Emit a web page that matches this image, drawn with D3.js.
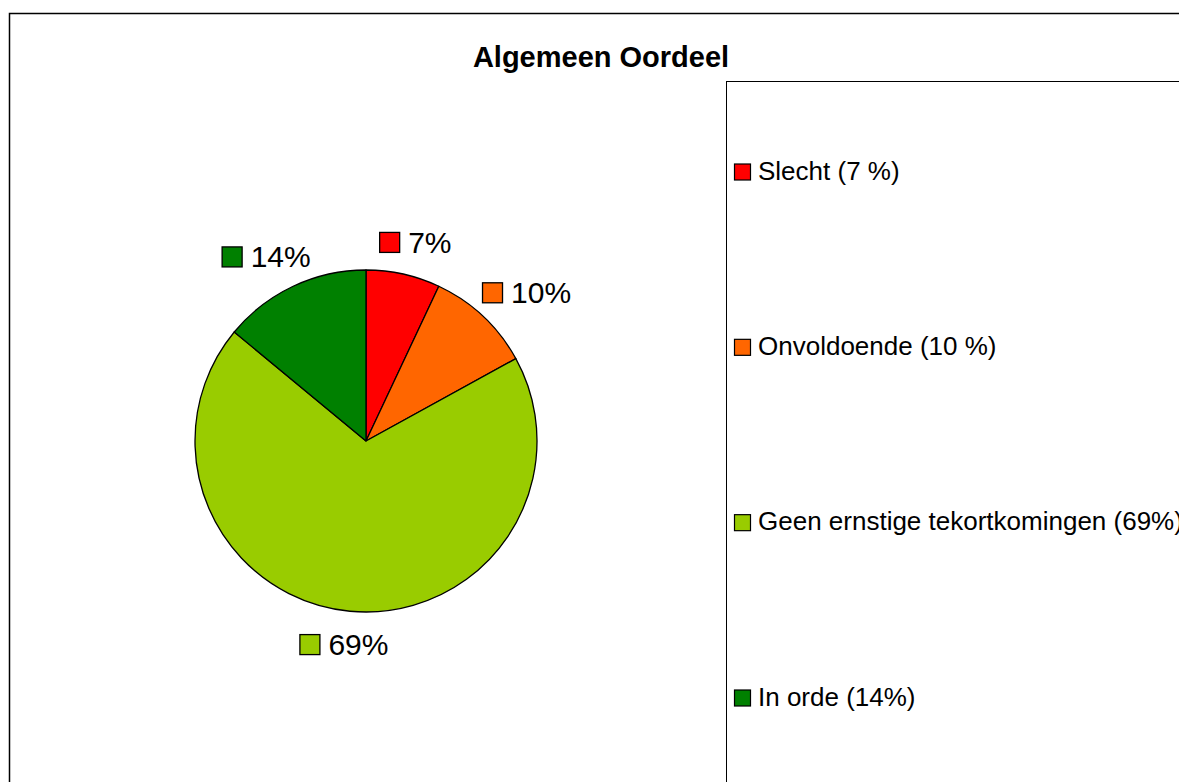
<!DOCTYPE html>
<html>
<head>
<meta charset="utf-8">
<script src="https://cdn.jsdelivr.net/npm/d3@7"></script>
<style>
  body { margin: 0; background: #fff; }
  text { font-family: "Liberation Sans", Arial, sans-serif; fill: #000; }
</style>
</head>
<body>
<div id="chart"></div>
<script>
var w = 1179,
    h = 782;

// data
var categories = ["Slecht", "Onvoldoende", "Geen ernstige tekortkomingen", "In orde"];
var values = [7, 10, 69, 14];
var sliceLabels = ["7%", "10%", "69%", "14%"];
var legendLabels = ["Slecht (7 %)", "Onvoldoende (10 %)", "Geen ernstige tekortkomingen (69%)", "In orde (14%)"];
var colors = ["#ff0000", "#ff6600", "#99cc00", "#008000"];

var cx = 366, cy = 441, radius = 171;

var svg = d3.select("#chart")
    .append("svg")
    .attr("width", w)
    .attr("height", h);

// outer chart border
svg.append("rect")
    .attr("x", 9.5)
    .attr("y", 13.5)
    .attr("width", w + 20)
    .attr("height", h + 20)
    .style("fill", "#fff")
    .style("stroke", "#000")
    .style("stroke-width", 1.5);

//title
svg.append("text")
    .attr("x", 601)
    .attr("y", 67)
    .attr("text-anchor", "middle")
    .style("font-size", "29px")
    .style("font-weight", "bold")
    .text("Algemeen Oordeel");

var color = d3.scaleOrdinal().domain(categories).range(colors);

var pie = d3.pie().sort(null).value(function (d) { return d.value; });
var arc = d3.arc().innerRadius(0).outerRadius(radius);

var data = categories.map(function (c, i) {
    return { name: c, value: values[i], label: sliceLabels[i] };
});
var arcs = pie(data);

var g = svg.append("g")
    .attr("transform", "translate(" + cx + "," + cy + ")");

g.selectAll("path")
    .data(arcs)
    .enter()
    .append("path")
    .attr("d", arc)
    .style("fill", function (d) { return color(d.data.name); })
    .style("stroke", "#000")
    .style("stroke-width", 1.3)
    .style("stroke-linejoin", "round");

// data labels (swatch + percentage) outside the pie
var labR = radius + 19,
    sw = 20, gap = 9, labH = 28;

var lab = g.selectAll("g.lab")
    .data(arcs)
    .enter()
    .append("g")
    .attr("class", "lab");

lab.each(function (d) {
    var el = d3.select(this);
    var t = el.append("text")
        .style("font-size", "30px")
        .text(d.data.label);
    var tw = t.node().getComputedTextLength();
    var bw = sw + gap + tw;
    var a = (d.startAngle + d.endAngle) / 2;
    var s = Math.sin(a), c = Math.cos(a);
    var mx = labR * s + s * bw / 2,
        my = -labR * c - c * labH / 2;
    var left = mx - bw / 2;
    el.append("rect")
        .attr("x", left + 0.5)
        .attr("y", my - sw / 2 + 0.5)
        .attr("width", sw)
        .attr("height", sw)
        .style("fill", color(d.data.name))
        .style("stroke", "#000")
        .style("stroke-width", 1.3);
    t.attr("x", left + sw + gap)
        .attr("y", my + 11);
});

// legend
var legX = 726;
svg.append("rect")
    .attr("x", legX + 0.5)
    .attr("y", 81.5)
    .attr("width", w)
    .attr("height", h)
    .style("fill", "#fff")
    .style("stroke", "#000")
    .style("stroke-width", 1);

var ly = d3.scalePoint().domain(categories).range([171.5, 697.5]);

var leg = svg.selectAll("g.leg")
    .data(categories)
    .enter()
    .append("g")
    .attr("class", "leg")
    .attr("transform", function (d) { return "translate(" + (legX + 8) + "," + ly(d) + ")"; });

leg.append("rect")
    .attr("x", 0.5)
    .attr("y", -7.5)
    .attr("width", 16)
    .attr("height", 16)
    .style("fill", function (d) { return color(d); })
    .style("stroke", "#000")
    .style("stroke-width", 1.2);

leg.append("text")
    .attr("x", 24)
    .attr("y", 8)
    .style("font-size", "26px")
    .text(function (d, i) { return legendLabels[i]; });
</script>
</body>
</html>
